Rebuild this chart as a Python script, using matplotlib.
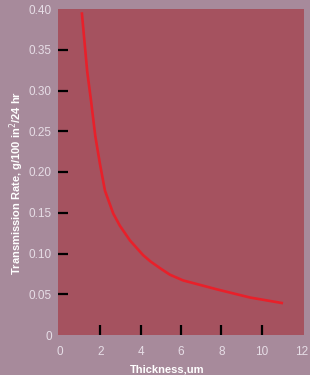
import matplotlib
matplotlib.use("Agg")
import matplotlib.pyplot as plt

# Data
thickness = [1.08, 1.35, 1.54, 1.75, 1.98, 2.23, 2.64, 2.97, 3.47, 4.12, 4.50, 4.96, 5.45,
             6.10, 7.78, 9.42, 11.06]
rate = [0.396, 0.323, 0.287, 0.244, 0.210, 0.177, 0.149, 0.134, 0.116, 0.098, 0.090, 0.082,
        0.074, 0.067, 0.056, 0.046, 0.039]

x_ticks = [0, 2, 4, 6, 8, 10, 12]
x_labels = ["0", "2", "4", "6", "8", "10", "12"]
y_ticks = [0, 0.05, 0.10, 0.15, 0.20, 0.25, 0.30, 0.35, 0.40]
y_labels = ["0", "0.05", "0.10", "0.15", "0.20", "0.25", "0.30", "0.35", "0.40"]

plt.rcParams['font.family'] = ['Liberation Sans', 'DejaVu Sans']

W, H = 310, 375
fig = plt.figure(figsize=(W / 100, H / 100), dpi=100, facecolor="#a78a9b")
ax = fig.add_axes([58 / W, 1 - 335 / H, (304 - 58) / W, (335 - 9) / H])
ax.set_facecolor("#a5525f")
for s in ax.spines.values():
    s.set_visible(False)

ax.plot(thickness, rate, color="#e8202a", lw=1.9, solid_capstyle="butt",
        solid_joinstyle="round")

ax.set_xlim(-0.1, 12.1)
ax.set_ylim(0, 0.398)

ax.xaxis.remove_overlapping_locs = False
ax.yaxis.remove_overlapping_locs = False

ax.set_xticks(x_ticks)
ax.set_xticklabels(x_labels)
ax.set_yticks(y_ticks)
ax.set_yticklabels(y_labels)
ax.tick_params(axis="both", which="major", length=0, colors="#e6dde6", labelsize=8.5)
ax.tick_params(axis="x", which="major", pad=8)
ax.tick_params(axis="y", which="major", pad=4.5)

ax.set_xticks(x_ticks[1:-1], minor=True)
ax.set_yticks(y_ticks[1:-1], minor=True)
ax.tick_params(axis="both", which="minor", direction="in", length=7, width=1.6, color="black")

ax.set_xlabel("Thickness,um", color="white", fontsize=8, fontweight="bold")
ax.xaxis.set_label_coords(0.443, -0.089)
ax.set_ylabel("Transmission Rate, g/100 in$^2$/24 hr", color="white", fontsize=8,
              fontweight="bold")
ax.yaxis.set_label_coords(-0.132, 0.466)

fig.savefig("out.png", dpi=100, facecolor=fig.get_facecolor())
